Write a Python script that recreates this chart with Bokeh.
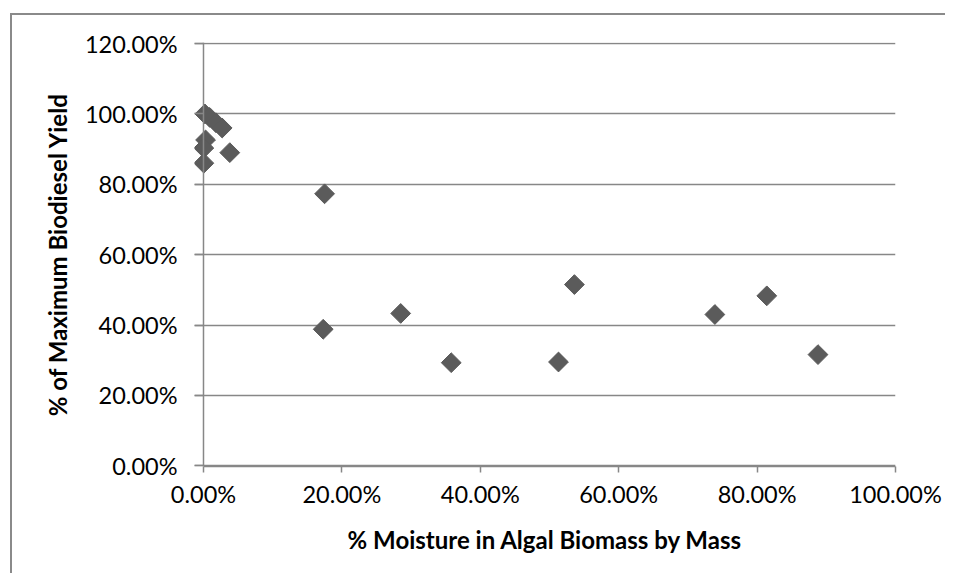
import math
from bokeh.plotting import figure
from bokeh.models import (ColumnDataSource, FixedTicker, PrintfTickFormatter,
                          Range1d, Span)
from bokeh.embed import file_html
from bokeh.resources import INLINE

# data (percent values)
moisture = [0.2, 0.9, 1.8, 2.7, 0.3, 0.05, 0.05, 3.8, 17.5, 17.3, 28.5,
            35.8, 51.3, 53.6, 73.9, 81.4, 88.8]
yield_pct = [100.0, 99.0, 97.5, 96.0, 92.6, 90.3, 86.0, 89.0, 77.3, 38.8,
             43.3, 29.3, 29.5, 51.5, 43.0, 48.3, 31.6]
x_ticks = [0, 20, 40, 60, 80, 100]
y_ticks = [0, 20, 40, 60, 80, 100, 120]
x_title = "% Moisture in Algal Biomass by Mass"
y_title = "% of Maximum Biodiesel Yield"

FONT = "Lato"
GRID = "#878787"
MARK = "#5b5b5b"
BORDER = "#8a8a8a"

# canvas starts inside the chart-area border (left/top edges in view)
OX, OY = 12, 15
W, H = 955 - OX - 8, 583 - OY - 8
p = figure(width=W, height=H, output_backend="svg",
           toolbar_location=None,
           x_range=Range1d(-1.3, 100), y_range=Range1d(-0.2, 120.3),
           min_border_left=194 - OX, min_border_right=W - (895 - OX),
           min_border_top=42 - OY, min_border_bottom=H - (466 - OY))
p.outline_line_color = None
p.background_fill_color = "white"
p.border_fill_color = "white"
p.styles = {
    "margin-left": "10px",
    "margin-top": "13px",
    "border-left": f"2px solid {BORDER}",
    "border-top": f"2px solid {BORDER}",
    "overflow": "hidden",
}

src = ColumnDataSource(dict(x=moisture, y=yield_pct))
p.scatter("x", "y", source=src, marker="square", angle=math.pi / 4, size=14,
          fill_color=MARK, line_color=MARK)

# axes
for ax in (p.xaxis[0], p.yaxis[0]):
    ax.formatter = PrintfTickFormatter(format="%.2f%%")
    ax.axis_line_color = GRID
    ax.axis_line_width = 1.5
    ax.major_tick_line_color = GRID
    ax.major_tick_line_width = 1.5
    ax.minor_tick_line_color = None
    ax.major_label_text_font = FONT
    ax.major_label_text_font_size = "23.5px"
    ax.major_label_text_color = "black"
    ax.axis_label_text_font = FONT
    ax.axis_label_text_font_size = "24px"
    ax.axis_label_text_font_style = "bold"
    ax.axis_label_text_color = "black"

p.xaxis[0].ticker = FixedTicker(ticks=x_ticks)
p.xaxis[0].bounds = (0, 100)
p.xaxis[0].major_tick_in = 0
p.xaxis[0].major_tick_out = 6
p.xaxis[0].major_label_standoff = 7
p.xaxis[0].axis_label = x_title
p.xaxis[0].axis_label_standoff = 14

# y axis: ticks reach from the frame edge up to the x=0 line
p.yaxis[0].ticker = FixedTicker(ticks=y_ticks)
p.yaxis[0].axis_line_color = None
p.yaxis[0].major_tick_out = 0
p.yaxis[0].major_tick_in = 9
p.yaxis[0].major_label_standoff = 17
p.yaxis[0].axis_label = y_title
p.yaxis[0].axis_label_standoff = 10
p.add_layout(Span(location=0, dimension="height", line_color=GRID,
                  line_width=1.5))

p.xgrid.visible = False
p.ygrid[0].ticker = FixedTicker(ticks=y_ticks)
p.ygrid[0].grid_line_color = GRID
p.ygrid[0].grid_line_width = 1.5

open("out.html", "w").write(file_html(p, INLINE))
